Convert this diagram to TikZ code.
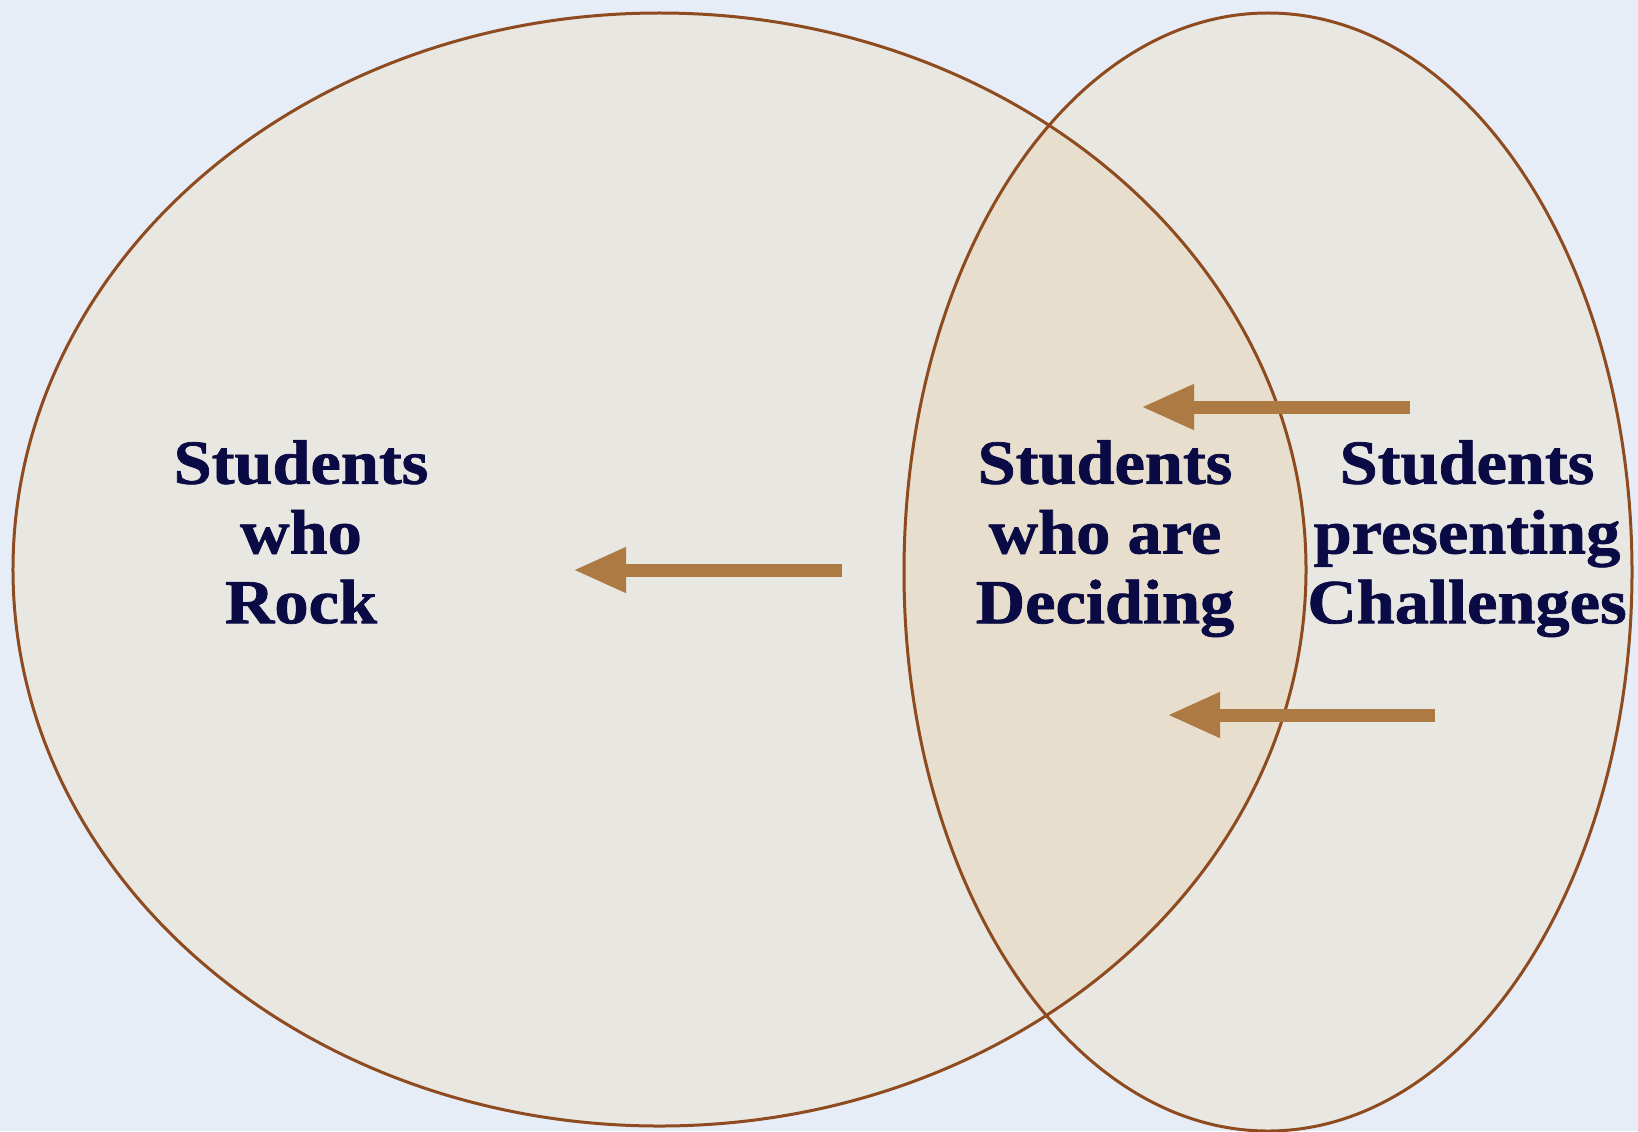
\documentclass[tikz,border=0pt]{standalone}
\usepackage{fontspec}
\setmainfont{Liberation Serif}[FakeStretch=1.09, BoldFeatures={FakeBold=1.2}]
\usetikzlibrary{arrows.meta}
\definecolor{bgblue}{HTML}{E7EDF6}
\definecolor{setgrey}{HTML}{E8E7E1}
\definecolor{overlap}{HTML}{E8DECD}
\definecolor{rim}{HTML}{8E4B20}
\definecolor{arrowtan}{HTML}{AD7A43}
\definecolor{navy}{HTML}{0A0A44}
\tikzset{
  setoutline/.style={draw=rim, line width=3bp},
  label/.style={inner sep=0pt, anchor=north, align=center, text=navy,
    font=\fontsize{63}{70}\selectfont\bfseries},
  bigarrow/.style={draw=arrowtan, line width=13bp,
    -{Triangle[length=53bp, width=42bp]}}
}
\begin{document}
\begin{tikzpicture}[x=1bp, y=-1bp]
\useasboundingbox (0,0) rectangle (1638,1131);
\fill[bgblue] (0,0) rectangle (1638,1131);
% set fills
\fill[setgrey] (659.5,569.5) ellipse [x radius=646.5bp, y radius=556.5bp];
\fill[setgrey] (1268,572) ellipse [x radius=364bp, y radius=559bp];
\begin{scope}
  \clip (659.5,569.5) ellipse [x radius=646.5bp, y radius=556.5bp];
  \fill[overlap] (1268,572) ellipse [x radius=364bp, y radius=559bp];
\end{scope}
% outlines
\draw[setoutline] (659.5,569.5) ellipse [x radius=646.5bp, y radius=556.5bp];
\draw[setoutline] (1268,572) ellipse [x radius=364bp, y radius=559bp];
% labels
\node[label] (rock) at (301,440) {Students\\who\\Rock};
\node[label] (deciding) at (1105,440) {Students\\who are\\Deciding};
\node[label] (challenges) at (1467,440) {Students\\presenting\\Challenges};
% arrow end points
\coordinate (a1s) at (842,570);
\coordinate (a1e) at (573,570);
\coordinate (a2s) at (1410,407);
\coordinate (a2e) at (1141,407);
\coordinate (a3s) at (1435,715);
\coordinate (a3e) at (1167,715);
\draw[bigarrow] (a1s) -- (a1e);
\draw[bigarrow] (a2s) -- (a2e);
\draw[bigarrow] (a3s) -- (a3e);
\end{tikzpicture}
\end{document}
